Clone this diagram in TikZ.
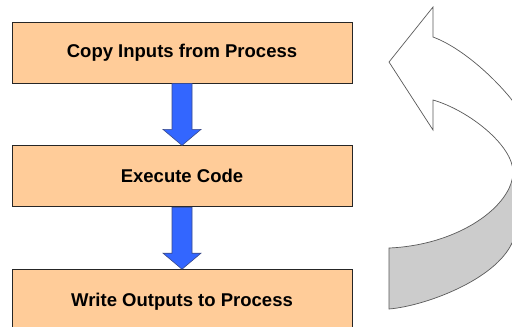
\documentclass[tikz,border=0pt]{standalone}
\usepackage{fontspec}
\setmainfont{Liberation Sans}
\usetikzlibrary{positioning}
\usetikzlibrary{calc}

\definecolor{boxfill}{HTML}{FFCC99}
\definecolor{flowblue}{HTML}{3366FF}
\definecolor{flowedge}{HTML}{3A4A88}
\definecolor{loopgray}{HTML}{CCCCCC}

\begin{document}
\begin{tikzpicture}[x=1pt,y=-1pt,
    stage/.style={draw=black!85, line width=0.8pt, fill=boxfill,
      minimum width=340pt, minimum height=61pt, inner sep=0pt,
      font=\fontsize{18.5}{22}\selectfont\bfseries},
    flowarrow/.style={fill=flowblue, draw=flowedge, line width=0.6pt, line join=miter},
    loopedge/.style={draw=black!65, line width=0.7pt, line join=miter}]
        \clip (0,0) rectangle (512,327);

        % the three stages
        \node[stage] (copy) at (182,52.5) {Copy Inputs from Process};
        \node[stage, below=62pt of copy] (exec) {Execute Code};
        \node[stage, below=62pt of exec, minimum height=65pt] (write) {Write Outputs to Process};

        % block arrows between stages
        \foreach \a/\b in {copy/exec, exec/write}
          \draw[flowarrow] ($(\a.south)+(-10,0)$) -- ($(\b.north)+(-10,-16)$)
            -- ($(\b.north)+(-19,-16)$) -- (\b.north) -- ($(\b.north)+(19,-16)$)
            -- ($(\b.north)+(10,-16)$) -- ($(\a.south)+(10,0)$) -- cycle;

        % loop arrow, front face
        \draw[loopedge, fill=white] (433,37) .. controls (460,47) and (492,75) .. (512,100)
          .. controls (525,125) and (532,150) .. (532,172) -- (513,172)
          .. controls (513,145) and (468,110) .. (433,100)
          -- (433,130) -- (389,62) -- (433,7) -- cycle;

        % loop arrow, back face
        \draw[loopedge, fill=loopgray] (513,172) .. controls (513,205) and (460,245) .. (389,248)
          -- (389,309) .. controls (425,306) and (495,280) .. (512,243)
          .. controls (522,225) and (532,200) .. (532,172) -- cycle;
      \end{tikzpicture}
\end{document}
